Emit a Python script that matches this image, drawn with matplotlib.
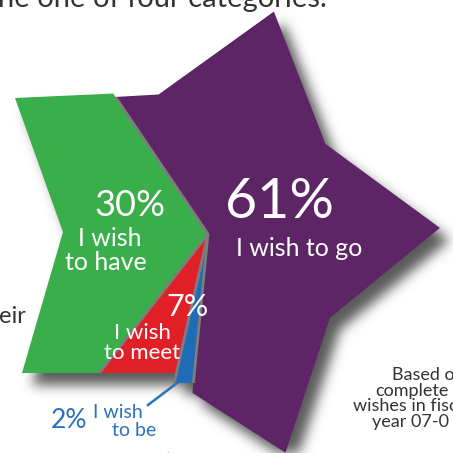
import numpy as np
import matplotlib
matplotlib.use("Agg")
import matplotlib.pyplot as plt
from matplotlib.patches import Polygon
from matplotlib.path import Path

# share of wishes, counterclockwise starting at the green/purple boundary
categories = ["I wish\nto have", "I wish\nto meet", "I wish\nto be", "I wish to go"]
shares = [30, 7, 2, 61]
pct_text = ["30%", "7%", "2%", "61%"]
colors = ["#39ae4b", "#e11f27", "#1e6cb6", "#5d2466"]
start_angle = 124.0

note_lines = ["Based o", "complete", "wishes in fisc", "year 07-0"]
top_line = "ne one of four categories."

plt.rcParams['font.family'] = ['Lato', 'DejaVu Sans']

W = H = 453
cx, cy = 208, 234
edge_gray = "#7d7d7d"
blue_txt = "#2a73bb"
dark = "#333333"

edges = start_angle + 360 * np.concatenate([[0], np.cumsum(shares)]) / 100.0


def wedge_pts(a0, a1, r=420):
    t = np.radians(np.linspace(a0, a1, 150))
    xs = np.r_[cx, cx + r * np.cos(t)]
    ys = np.r_[cy, cy - r * np.sin(t)]
    return np.column_stack([xs, ys])


def star_pts(R=232, r=148, tip=1.5):
    k = np.arange(10)
    a = np.radians(tip + 36 * k)
    rad = np.where(k % 2 == 0, R, r)
    return np.column_stack([cx + rad * np.cos(a), cy - rad * np.sin(a)])


chevron = np.array([(15, 98), (235, 88), (235, 373), (22, 373), (63, 232)])
below = np.array([(0, 0), (W, 0), (W, 383), (0, 383)])
star = star_pts()
clips = [chevron, chevron, below, star]

fig = plt.figure(figsize=(4.53, 4.53), dpi=100)
ax = fig.add_axes([0, 0, 1, 1])
ax.set_xlim(0, W)
ax.set_ylim(H, 0)
ax.axis('off')

# drop shadow: rasterised union of the shapes, shifted and blurred
yy, xx = np.mgrid[0:H, 0:W] + 0.5
pts = np.column_stack([xx.ravel(), yy.ravel()])
rel = (np.degrees(np.arctan2(-(yy - cy), xx - cx)) - start_angle) % 360
rel_edges = edges - start_angle
mask = np.zeros((H, W), bool)
for i, clip in enumerate(clips):
    inside = Path(clip).contains_points(pts).reshape(H, W)
    mask |= inside & (rel >= rel_edges[i]) & (rel < rel_edges[i + 1])

dx, dy = 10, 12
shadow = np.zeros((H, W))
shadow[dy:, dx:] = mask[:-dy, :-dx]
sig = 6.0
kx = np.arange(-20, 21)
kern = np.exp(-kx ** 2 / (2 * sig ** 2))
kern /= kern.sum()
shadow = np.apply_along_axis(lambda v: np.convolve(v, kern, mode='same'), 1, shadow)
shadow = np.apply_along_axis(lambda v: np.convolve(v, kern, mode='same'), 0, shadow)
rgba = np.zeros((H, W, 4))
rgba[..., :3] = 0.32
rgba[..., 3] = np.clip(shadow * 0.95, 0, 1)
ax.imshow(rgba, extent=(0, W, H, 0), zorder=1, interpolation='bilinear')

# coloured slices
for i in range(len(shares)):
    poly = Polygon(wedge_pts(edges[i], edges[i + 1]), closed=True,
                   facecolor=colors[i], edgecolor='none', zorder=3)
    ax.add_patch(poly)
    cp = Polygon(clips[i], closed=True, transform=ax.transData)
    poly.set_clip_path(cp)

# gray separators between slices
for i in range(len(shares)):
    a = np.radians(edges[i])
    ln, = ax.plot([cx, cx + 420 * np.cos(a)], [cy, cy - 420 * np.sin(a)],
                  color=edge_gray, lw=2.0, zorder=4, solid_capstyle='butt')
    ln.set_clip_path(Polygon(clips[i - 1] if i in (0, 3) else clips[i],
                             closed=True, transform=ax.transData))

# labels
ax.text(279, 203, pct_text[3], color='white', fontsize=40,
        ha='center', va='center', zorder=5)
ax.text(299, 249, categories[3], color='white', fontsize=18,
        ha='center', va='center', zorder=5)

ax.text(130, 205, pct_text[0], color='white', fontsize=26,
        ha='center', va='center', zorder=5)
l1, l2 = categories[0].split("\n")
ax.text(110, 239, l1, color='white', fontsize=18, ha='center', va='center', zorder=5)
ax.text(106, 262, l2, color='white', fontsize=18, ha='center', va='center', zorder=5)

ax.text(188, 307, pct_text[1], color='white', fontsize=22,
        ha='center', va='center', zorder=5)
l1, l2 = categories[1].split("\n")
ax.text(142, 333, l1, color='white', fontsize=16, ha='center', va='center', zorder=5)
ax.text(142, 353, l2, color='white', fontsize=16, ha='center', va='center', zorder=5)

ax.text(69, 421, pct_text[2], color=blue_txt, fontsize=19,
        ha='center', va='center', zorder=5)
l1, l2 = categories[2].split("\n")
ax.text(118, 413, l1, color=blue_txt, fontsize=14, ha='center', va='center', zorder=5)
ax.text(134, 430, l2, color=blue_txt, fontsize=14, ha='center', va='center', zorder=5)
ax.plot([148, 177], [405, 383], color=blue_txt, lw=1.8, zorder=5)

ax.text(-2, 7, top_line, color=dark, fontsize=21,
        ha='left', va='baseline', zorder=5)
ax.text(-1, 323, "eir", color=dark, fontsize=17,
        ha='left', va='baseline', zorder=5)

note_x = [392, 375, 353, 372]
for j, s in enumerate(note_lines):
    ax.text(note_x[j], 375 + 15.7 * j, s, color=dark, fontsize=13,
            ha='left', va='center', zorder=5)

ax.text(167, 458, "\u2605", color="#4a1f55", fontsize=10, ha='center',
        va='center', family='DejaVu Sans', zorder=5)
ax.text(212, 459, "\u2713", color="#39ae4b", fontsize=11, ha='center',
        va='center', family='DejaVu Sans', zorder=5)

fig.savefig("out.png", dpi=100)
